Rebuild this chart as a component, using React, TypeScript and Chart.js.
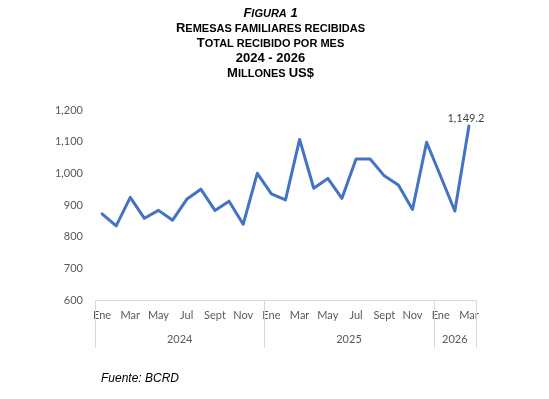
import React, { useEffect, useRef } from "react";
import { Chart, registerables } from "chart.js";

Chart.register(...registerables);

const monthNames = ["Ene", "Feb", "Mar", "Abr", "May", "Jun", "Jul", "Ago", "Sept", "Oct", "Nov", "Dic"];
const months2026 = ["Ene", "Feb", "Mar"];
const years = ["2024", "2025", "2026"];
const values2024 = [872, 834, 924, 858, 883, 852, 918, 950, 883, 912, 839, 1000];
const values2025 = [935, 916, 1107, 953, 984, 921, 1045, 1045, 992, 963, 886, 1098];
const values2026 = [990, 881, 1149.2];
const yTicks = [600, 700, 800, 900, 1000, 1100, 1200];
const lastLabel = "1,149.2";

const labels = [...monthNames, ...monthNames, ...months2026];
const values = [...values2024, ...values2025, ...values2026];
const groupSizes = [values2024.length, values2025.length, values2026.length];

const GRAY_LINE = "#d9d9d9";
const TEXT_GRAY = "#595959";
const FONT = "Lato";

const groupPlugin = {
  id: "groupAxis",
  afterDraw(chart: any) {
    const { ctx, chartArea } = chart;
    const x = chart.scales.x;
    const top = chartArea.bottom;
    const bottom = top + 48;
    const bounds: number[] = [chartArea.left];
    let idx = 0;
    groupSizes.forEach((n, gi) => {
      idx += n;
      if (gi < groupSizes.length - 1) {
        bounds.push((x.getPixelForValue(idx - 1) + x.getPixelForValue(idx)) / 2);
      }
    });
    bounds.push(chartArea.right);
    ctx.save();
    ctx.strokeStyle = GRAY_LINE;
    ctx.lineWidth = 1;
    bounds.forEach((b) => {
      const px = Math.round(b) + 0.5;
      ctx.beginPath();
      ctx.moveTo(px, top);
      ctx.lineTo(px, bottom);
      ctx.stroke();
    });
    ctx.fillStyle = TEXT_GRAY;
    ctx.font = `11px ${FONT}`;
    ctx.textAlign = "center";
    ctx.textBaseline = "middle";
    years.forEach((yr, i) => {
      ctx.fillText(yr, (bounds[i] + bounds[i + 1]) / 2, top + 39);
    });
    const meta = chart.getDatasetMeta(0);
    const last = meta.data[meta.data.length - 1];
    ctx.fillStyle = "#404040";
    ctx.font = `11px ${FONT}`;
    ctx.fillText(lastLabel, last.x - 3, last.y - 8);
    ctx.restore();
  },
};

function App() {
  const ref = useRef<HTMLCanvasElement | null>(null);
  useEffect(() => {
    if (!ref.current) return;
    const chart = new Chart(ref.current, {
      type: "line",
      data: {
        labels,
        datasets: [
          {
            data: values,
            borderColor: "#4472C4",
            backgroundColor: "#4472C4",
            borderWidth: 3,
            pointRadius: 0,
            borderJoinStyle: "round",
            borderCapStyle: "round",
            tension: 0,
            clip: false as any,
          },
        ],
      },
      plugins: [groupPlugin],
      options: {
        animation: false,
        responsive: false,
        devicePixelRatio: 1,
        layout: { padding: { top: 110, right: 73, bottom: 51, left: 0 } },
        plugins: { legend: { display: false }, tooltip: { enabled: false }, title: { display: false } },
        scales: {
          x: {
            type: "category",
            offset: true,
            grid: { display: false, drawTicks: false },
            border: { display: true, color: GRAY_LINE, width: 1 },
            ticks: {
              autoSkip: false,
              maxRotation: 0,
              minRotation: 0,
              padding: 9,
              color: TEXT_GRAY,
              font: { family: FONT, size: 11 },
              callback: (_v: any, i: number) => (i % 2 === 0 ? labels[i] : ""),
            },
            afterFit: (s: any) => {
              s.height = 48;
            },
          },
          y: {
            min: yTicks[0],
            max: yTicks[yTicks.length - 1],
            grid: { display: false, drawTicks: false },
            border: { display: false },
            afterBuildTicks: (s: any) => {
              s.ticks = yTicks.map((v) => ({ value: v }));
            },
            ticks: {
              padding: 12,
              color: TEXT_GRAY,
              font: { family: FONT, size: 11 },
              callback: (v: any) => Number(v).toLocaleString("en-US"),
            },
            afterFit: (s: any) => {
              s.width = 95;
            },
          },
        },
      },
    });
    return () => chart.destroy();
  }, []);

  const big = { fontSize: 13 };
  const small = { fontSize: 11 };
  const lineStyle: React.CSSProperties = { height: 15, lineHeight: "15px", whiteSpace: "nowrap" };

  return (
    <div style={{ position: "fixed", left: 0, top: 0, width: 549, height: 399, background: "#fff" }}>
      <canvas ref={ref} width={549} height={399} style={{ position: "absolute", left: 0, top: 0 }} />
      <div
        style={{
          position: "absolute",
          left: 0,
          top: 4,
          width: 541,
          textAlign: "center",
          fontFamily: "'Liberation Sans', Arial, sans-serif",
          fontWeight: "bold",
          color: "#000",
        }}
      >
        <div style={{ ...lineStyle, fontStyle: "italic" }}>
          <span style={big}>F</span>
          <span style={small}>IGURA</span>
          <span style={big}> 1</span>
        </div>
        <div style={lineStyle}>
          <span style={big}>R</span>
          <span style={small}>EMESAS FAMILIARES RECIBIDAS</span>
        </div>
        <div style={lineStyle}>
          <span style={big}>T</span>
          <span style={small}>OTAL RECIBIDO POR MES</span>
        </div>
        <div style={lineStyle}>
          <span style={big}>2024 - 2026</span>
        </div>
        <div style={lineStyle}>
          <span style={big}>M</span>
          <span style={small}>ILLONES </span>
          <span style={big}>US$</span>
        </div>
      </div>
      <div
        style={{
          position: "absolute",
          left: 101,
          top: 371,
          fontFamily: "'Liberation Sans', Arial, sans-serif",
          fontStyle: "italic",
          fontSize: 12,
          lineHeight: "14px",
          color: "#000",
        }}
      >
        Fuente: BCRD
      </div>
    </div>
  );
}

export default App;
